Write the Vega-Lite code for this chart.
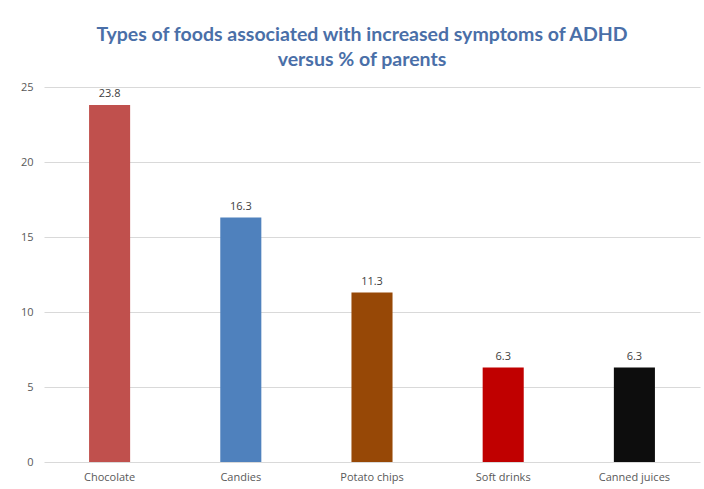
{
  "$schema": "https://vega.github.io/schema/vega-lite/v6.json",
  "autosize": "none",
  "width": 656,
  "height": 375,
  "padding": {"left": 44, "top": 87, "right": 4, "bottom": 27},
  "background": "#ffffff",
  "title": {
    "text": ["Types of foods associated with increased symptoms of ADHD", "versus % of parents"],
    "font": "Lato",
    "fontSize": 19.5,
    "fontWeight": "bold",
    "color": "#4a6fa8",
    "anchor": "middle",
    "dx": -10,
    "offset": 11,
    "lineHeight": 25
  },
  "data": {
    "values": [
      {"food": "Chocolate", "pct": 23.8},
      {"food": "Candies", "pct": 16.3},
      {"food": "Potato chips", "pct": 11.3},
      {"food": "Soft drinks", "pct": 6.3},
      {"food": "Canned juices", "pct": 6.3}
    ]
  },
  "encoding": {
    "x": {
      "field": "food",
      "type": "nominal",
      "sort": null,
      "scale": {"paddingInner": 0.687, "paddingOuter": 0.3435},
      "axis": {
        "title": null,
        "labelAngle": 0,
        "domain": false,
        "ticks": false,
        "labelPadding": 9,
        "labelFont": "Open Sans",
        "labelFontSize": 11,
        "labelColor": "#595959"
      }
    },
    "y": {
      "field": "pct",
      "type": "quantitative",
      "scale": {"domain": [0, 25]},
      "axis": {
        "title": null,
        "values": [0, 5, 10, 15, 20, 25],
        "domain": false,
        "ticks": false,
        "labelPadding": 11,
        "labelFont": "Open Sans",
        "labelFontSize": 11,
        "labelColor": "#595959",
        "gridColor": "#d9d9d9",
        "gridWidth": 1
      }
    }
  },
  "layer": [
    {
      "mark": {"type": "bar"},
      "encoding": {
        "color": {
          "field": "food",
          "type": "nominal",
          "scale": {
            "domain": ["Chocolate", "Candies", "Potato chips", "Soft drinks", "Canned juices"],
            "range": ["#c0504d", "#4f81bd", "#974806", "#c00000", "#0d0d0d"]
          },
          "legend": null
        }
      }
    },
    {
      "mark": {"type": "text", "baseline": "bottom", "dy": -6, "font": "Open Sans", "fontSize": 11, "color": "#404040"},
      "encoding": {
        "text": {"field": "pct", "type": "quantitative", "format": ".1f"}
      }
    }
  ],
  "config": {"view": {"stroke": null}}
}
